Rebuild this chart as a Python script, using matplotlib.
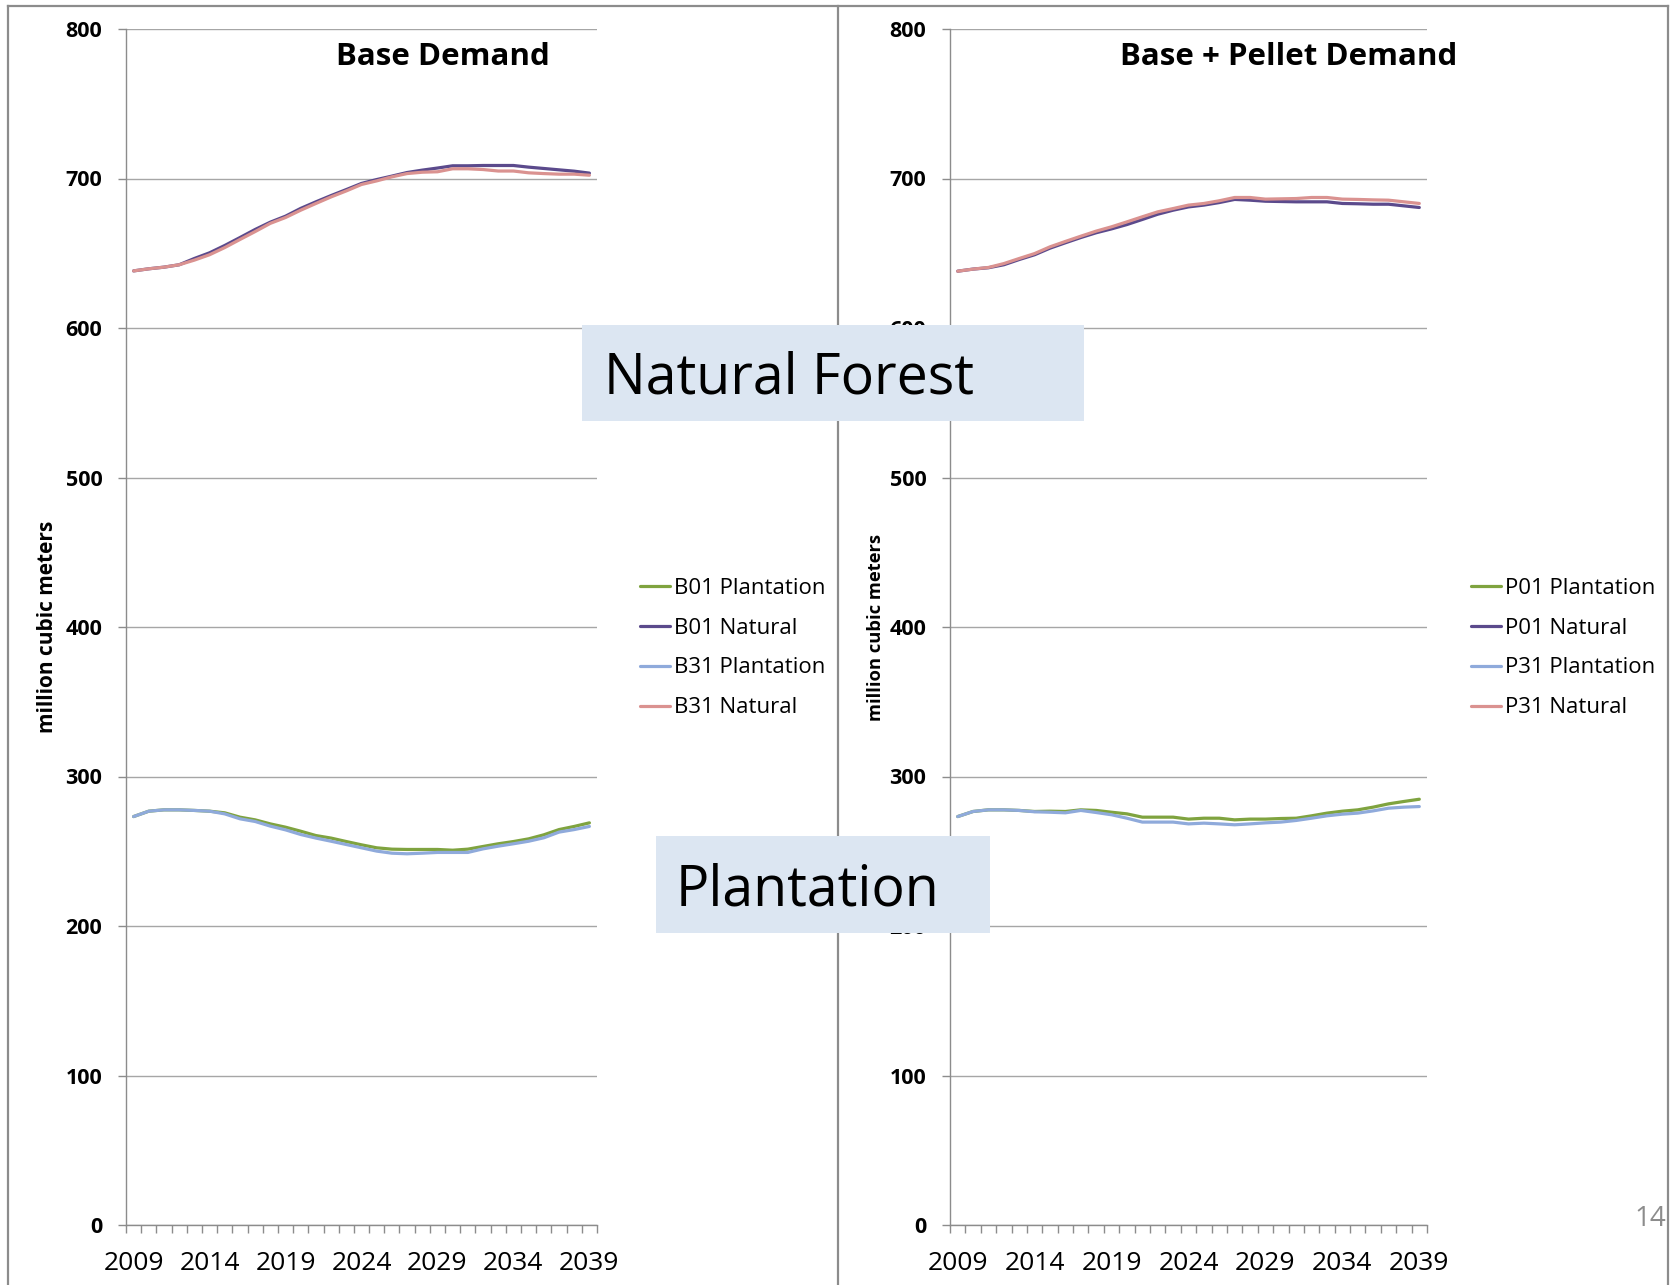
import matplotlib
matplotlib.use("Agg")
import matplotlib.pyplot as plt
from matplotlib.lines import Line2D
from matplotlib.patches import Rectangle
from matplotlib.ticker import FixedLocator, NullFormatter

plt.rcParams['font.family'] = ['Open Sans', 'DejaVu Sans']

years = list(range(2009, 2040))
year_labels = [str(y) for y in years[::5]]

# Base demand scenarios (million cubic meters)
b01_plantation = [273.2, 276.8, 277.7, 277.7, 277.3, 276.8, 275.7, 272.8, 271.0, 268.3,
                  266.1, 263.4, 260.5, 258.8, 256.5, 254.3, 252.3, 251.4, 251.2, 251.2,
                  251.2, 250.7, 251.4, 253.2, 255.0, 256.5, 258.3, 261.0, 264.5, 266.6, 269.0]
b01_natural = [638.2, 639.6, 640.7, 642.3, 646.5, 650.3, 655.2, 660.5, 665.9, 670.8,
               674.8, 680.0, 684.4, 688.6, 692.6, 696.7, 699.3, 701.6, 704.0, 705.6,
               707.0, 708.5, 708.5, 708.7, 708.7, 708.7, 707.6, 706.7, 705.8, 704.9, 703.6]
b31_plantation = [273.2, 276.8, 277.7, 277.7, 277.3, 276.8, 275.0, 271.7, 269.9, 266.8,
                  264.3, 261.2, 258.8, 256.7, 254.5, 252.3, 250.1, 248.7, 248.3, 248.7,
                  249.2, 249.2, 249.2, 251.6, 253.4, 255.0, 256.7, 259.0, 262.8, 264.5, 266.6]
b31_natural = [638.2, 639.6, 640.7, 642.3, 645.4, 649.0, 653.8, 659.2, 664.5, 670.0,
               673.9, 678.8, 683.3, 687.7, 691.7, 696.0, 698.4, 701.1, 703.3, 704.2,
               704.5, 706.5, 706.5, 706.0, 705.0, 705.0, 703.8, 703.3, 702.9, 702.9, 702.2]

# Base + pellet demand scenarios (million cubic meters)
p01_plantation = [273.2, 276.6, 277.7, 277.7, 277.3, 276.6, 276.8, 276.6, 277.7, 277.3,
                  276.1, 275.0, 272.8, 272.8, 272.8, 271.5, 272.1, 272.1, 271.0, 271.5,
                  271.5, 271.9, 272.1, 273.7, 275.5, 276.8, 277.7, 279.5, 281.7, 283.3, 284.8]
p01_natural = [638.0, 639.4, 640.3, 642.3, 645.8, 649.0, 653.4, 657.0, 660.5, 663.7,
               666.3, 669.2, 672.6, 676.1, 678.8, 681.0, 682.2, 683.9, 686.0, 685.5,
               684.8, 684.6, 684.4, 684.4, 684.4, 683.3, 683.1, 682.8, 682.8, 681.7, 680.6]
p31_plantation = [273.2, 276.6, 277.7, 277.7, 277.3, 276.4, 276.1, 275.7, 277.3, 275.9,
                  274.4, 272.1, 269.5, 269.5, 269.5, 268.3, 268.8, 268.3, 267.7, 268.3,
                  269.0, 269.5, 270.6, 272.1, 273.7, 274.8, 275.5, 277.0, 278.8, 279.5, 279.9]
p31_natural = [638.0, 639.4, 640.5, 643.1, 646.5, 649.8, 654.3, 657.9, 661.4, 664.8,
               667.7, 671.0, 674.4, 677.7, 679.9, 682.2, 683.3, 685.1, 687.3, 687.3,
               686.2, 686.4, 686.6, 687.3, 687.3, 686.2, 686.0, 685.7, 685.5, 684.4, 683.3]

GREEN = "#7FA33F"
PURPLE = "#5B4A8C"
BLUE = "#8FAADB"
PINK = "#DA9290"
GRID = "#A6A6A6"
FRAME = "#8C8C8C"

W, H = 1672, 1285
fig = plt.figure(figsize=(W / 100, H / 100), dpi=100)
fig.patch.set_facecolor("white")


def fx(px):
    return px / W


def fy(py):
    return 1 - py / H


def make_panel(left_px, right_px, series, title, title_x, label_x, legend_x, ylabel_size):
    ax = fig.add_axes([fx(left_px), fy(1225), fx(right_px - left_px), (1225 - 29) / H])
    x = list(range(len(years)))
    for vals, color, name in series:
        ax.plot(x, vals, color=color, lw=2.3, label=name, solid_capstyle="round", zorder=3)
    ax.set_xlim(-0.5, len(years) - 0.5)
    ax.set_ylim(0, 800)
    ax.set_yticks(range(0, 801, 100))
    ax.yaxis.grid(True, color=GRID, lw=1.0)
    ax.set_axisbelow(True)
    for s in ("top", "right"):
        ax.spines[s].set_visible(False)
    for s in ("left", "bottom"):
        ax.spines[s].set_color(FRAME)
        ax.spines[s].set_linewidth(1.0)
    ax.tick_params(axis="y", length=6, width=1.0, color=FRAME, pad=11,
                   labelsize=15.5)
    for lab in ax.get_yticklabels():
        lab.set_fontweight("bold")
    ax.set_xticks(x[::5])
    ax.set_xticklabels(year_labels, fontsize=19)
    ax.tick_params(axis="x", which="major", length=0, pad=19)
    ax.xaxis.set_minor_locator(FixedLocator([i - 0.5 for i in range(len(years) + 1)]))
    ax.xaxis.set_minor_formatter(NullFormatter())
    ax.tick_params(axis="x", which="minor", length=6, width=1.0, color=FRAME)
    ax.set_ylabel("million cubic meters", fontsize=ylabel_size, fontweight="bold")
    ax.yaxis.set_label_coords((label_x - left_px) / (right_px - left_px), 0.5)
    fig.text(fx(title_x), fy(57), title, ha="center", va="center",
             fontsize=22.5, fontweight="bold")
    handles, labels = ax.get_legend_handles_labels()
    fig.legend(handles, labels, loc="center left", bbox_to_anchor=(fx(legend_x), fy(648)),
               frameon=False, fontsize=16, handlelength=1.35, handletextpad=0.2,
               labelspacing=0.85, borderpad=0, borderaxespad=0)
    return ax


make_panel(126, 597,
           [(b01_plantation, GREEN, "B01 Plantation"),
            (b01_natural, PURPLE, "B01 Natural"),
            (b31_plantation, BLUE, "B31 Plantation"),
            (b31_natural, PINK, "B31 Natural")],
           "Base Demand", 443, 58, 640, 15)

make_panel(950, 1427,
           [(p01_plantation, GREEN, "P01 Plantation"),
            (p01_natural, PURPLE, "P01 Natural"),
            (p31_plantation, BLUE, "P31 Plantation"),
            (p31_natural, PINK, "P31 Natural")],
           "Base + Pellet Demand", 1289, 885, 1471, 13.2)

# Slide frame and divider
for xs, ys in [((8, 1668), (6, 6)), ((8, 8), (6, 1285)), ((838, 838), (6, 1285)),
               ((1668, 1668), (6, 1285))]:
    fig.add_artist(Line2D([fx(xs[0]), fx(xs[1])], [fy(ys[0]), fy(ys[1])],
                          color=FRAME, lw=1.6, zorder=5))

# Callout boxes
BOX = "#DCE6F2"
fig.add_artist(Rectangle((fx(582), fy(421)), fx(1084 - 582), (421 - 325) / H,
                         facecolor=BOX, edgecolor="none", zorder=6))
fig.text(fx(604), fy(394), "Natural Forest", fontsize=40, va="baseline", ha="left",
         color="black", zorder=7)
fig.add_artist(Rectangle((fx(656), fy(933)), fx(990 - 656), (933 - 836) / H,
                         facecolor=BOX, edgecolor="none", zorder=6))
fig.text(fx(676), fy(906), "Plantation", fontsize=40, va="baseline", ha="left",
         color="black", zorder=7)

fig.text(fx(1650), fy(1219), "14", fontsize=20, color="#8C8C8C", ha="center", va="center")

fig.savefig("out.png", dpi=100)
